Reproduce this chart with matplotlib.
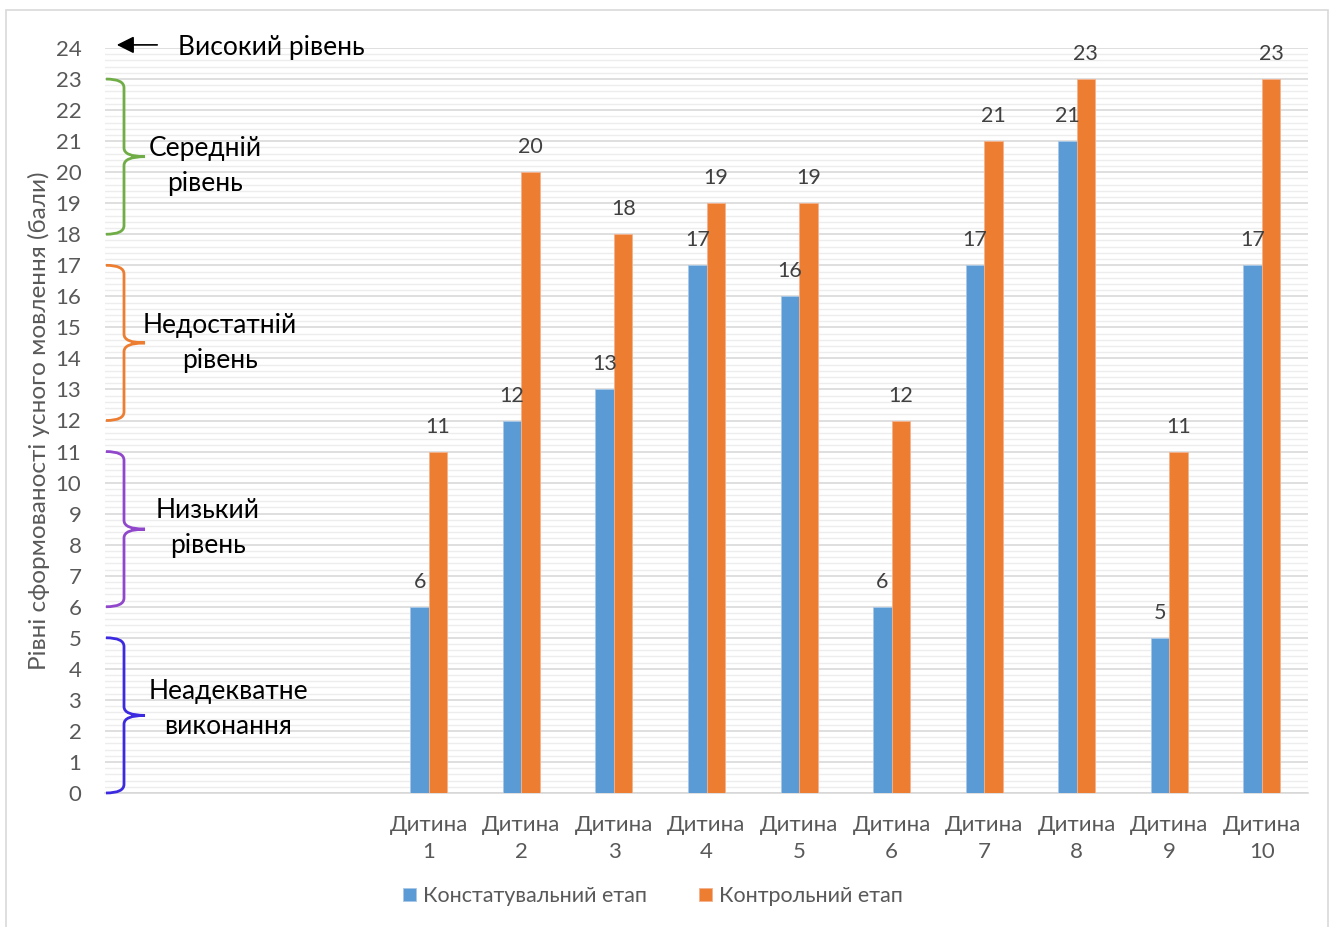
import matplotlib
matplotlib.use("Agg")
import matplotlib.pyplot as plt
import numpy as np
from matplotlib.path import Path
from matplotlib.patches import PathPatch, Rectangle
from matplotlib.ticker import MultipleLocator
import matplotlib.transforms as mtransforms

plt.rcParams['font.family'] = ['Lato', 'Open Sans', 'DejaVu Sans']

# --- data ---
child_labels = ['Дитина\n1', 'Дитина\n2', 'Дитина\n3', 'Дитина\n4', 'Дитина\n5',
                'Дитина\n6', 'Дитина\n7', 'Дитина\n8', 'Дитина\n9', 'Дитина\n10']
n_blank = 3  # empty category slots on the left, where the level braces sit
stage_names = ['Констатувальний етап', 'Контрольний етап']
stage_ascertain = [6, 12, 13, 17, 16, 6, 17, 21, 5, 17]
stage_control = [11, 20, 18, 19, 19, 12, 21, 23, 11, 23]

level_names = ['Неадекватне\nвиконання', 'Низький\nрівень', 'Недостатній\nрівень', 'Середній\nрівень']
level_low = [0, 6, 12, 18]
level_high = [5, 11, 17, 23]
level_text_y = [2.7, 8.55, 14.5, 20.2]
level_text_x = [228, 208, 220, 205]  # centre of the caption, in pixels
level_colors = ['#3b2ae0', '#9147cc', '#ed7d31', '#70ad47']
top_level = 'Високий рівень'
y_label = 'Рівні сформованості усного мовлення (бали)'

blue = '#5b9bd5'
orange = '#ed7d31'
gray_txt = '#595959'

fig = plt.figure(figsize=(13.35, 9.27), dpi=100)
ax = fig.add_axes([105 / 1335, 1 - 793 / 927, 1203 / 1335, 745 / 927])

n_cat = n_blank + len(child_labels)
x = np.arange(n_blank, n_cat)
w = 0.2
b1 = ax.bar(x - w / 2, stage_ascertain, w, color=blue, edgecolor='#a9c8e8', linewidth=0.6,
            label=stage_names[0], zorder=3)
b2 = ax.bar(x + w / 2, stage_control, w, color=orange, edgecolor='#f3b28e', linewidth=0.6,
            label=stage_names[1], zorder=3)

for bars in (b1, b2):
    for r in bars:
        ax.annotate(f'{int(r.get_height())}', (r.get_x() + r.get_width() / 2, r.get_height()),
                    xytext=(0, 18), textcoords='offset points', ha='center', va='center',
                    fontsize=15.5, color='#404040', zorder=4)

ax.set_xlim(-0.5, n_cat - 0.5)
ax.set_ylim(0, 24)
ax.set_xticks(np.arange(n_cat))
ax.set_xticklabels([''] * n_blank + child_labels)
for lbl in ax.get_xticklabels():
    lbl.set_linespacing(1.45)
ax.yaxis.set_major_locator(MultipleLocator(1))
ax.yaxis.set_minor_locator(MultipleLocator(0.2))
ax.tick_params(axis='both', which='both', length=0, labelsize=16, labelcolor=gray_txt)
ax.tick_params(axis='y', pad=17)
ax.tick_params(axis='x', pad=16)
ax.grid(axis='y', which='major', color='#d6d6d6', linewidth=1.1, zorder=0)
ax.grid(axis='y', which='minor', color='#ededed', linewidth=1.0, zorder=0)
for s in ('left', 'right', 'top'):
    ax.spines[s].set_visible(False)
ax.spines['bottom'].set_color('#d6d6d6')
ax.spines['bottom'].set_linewidth(1.1)
ax.set_ylabel(y_label, fontsize=17.5, color=gray_txt, labelpad=4)

# braces marking the levels
trans = mtransforms.blended_transform_factory(ax.transAxes, ax.transData)
px = 1 / 1203
x0, x1, x2 = 1 * px, 19 * px, 40 * px
r = 0.28
for lo, hi, col, name, tx, ty in zip(level_low, level_high, level_colors, level_names,
                                     level_text_x, level_text_y):
    mid = (lo + hi) / 2
    verts = [(x0, hi), (x1, hi), (x1, hi - r), (x1, mid + r), (x1, mid), (x2, mid),
             (x1, mid), (x1, mid - r), (x1, lo + r), (x1, lo), (x0, lo)]
    codes = [Path.MOVETO, Path.CURVE3, Path.CURVE3, Path.LINETO, Path.CURVE3, Path.CURVE3,
             Path.CURVE3, Path.CURVE3, Path.LINETO, Path.CURVE3, Path.CURVE3]
    ax.add_patch(PathPatch(Path(verts, codes), transform=trans, fill=False, edgecolor=col,
                           linewidth=2, clip_on=False, zorder=5))
    ax.text((tx - 105) * px, ty, name, transform=trans, fontsize=19, color='black',
            ha='center', va='center', linespacing=1.5, zorder=5)

ax.annotate('', xy=(9 * px, 24.1), xytext=(55 * px, 24.1), xycoords=trans, textcoords=trans,
            arrowprops=dict(arrowstyle='-|>', color='black', lw=1.2, mutation_scale=26),
            annotation_clip=False)
ax.text((178 - 105) * px, 24.0, top_level, transform=trans, fontsize=19, color='black',
        ha='left', va='center', clip_on=False)

fig.legend(loc='center', bbox_to_anchor=(653 / 1335, 1 - 896 / 927), ncol=2, frameon=False,
           fontsize=15.5, labelcolor=gray_txt, handlelength=0.6, handleheight=0.6,
           handletextpad=0.35, columnspacing=2.4)

fig.patches.append(Rectangle((6 / 1335, -0.02), 1322 / 1335, 1.02 - 10 / 927,
                             transform=fig.transFigure, fill=False, edgecolor='#d9d9d9',
                             linewidth=1.2))

fig.savefig('out.png', dpi=100)
